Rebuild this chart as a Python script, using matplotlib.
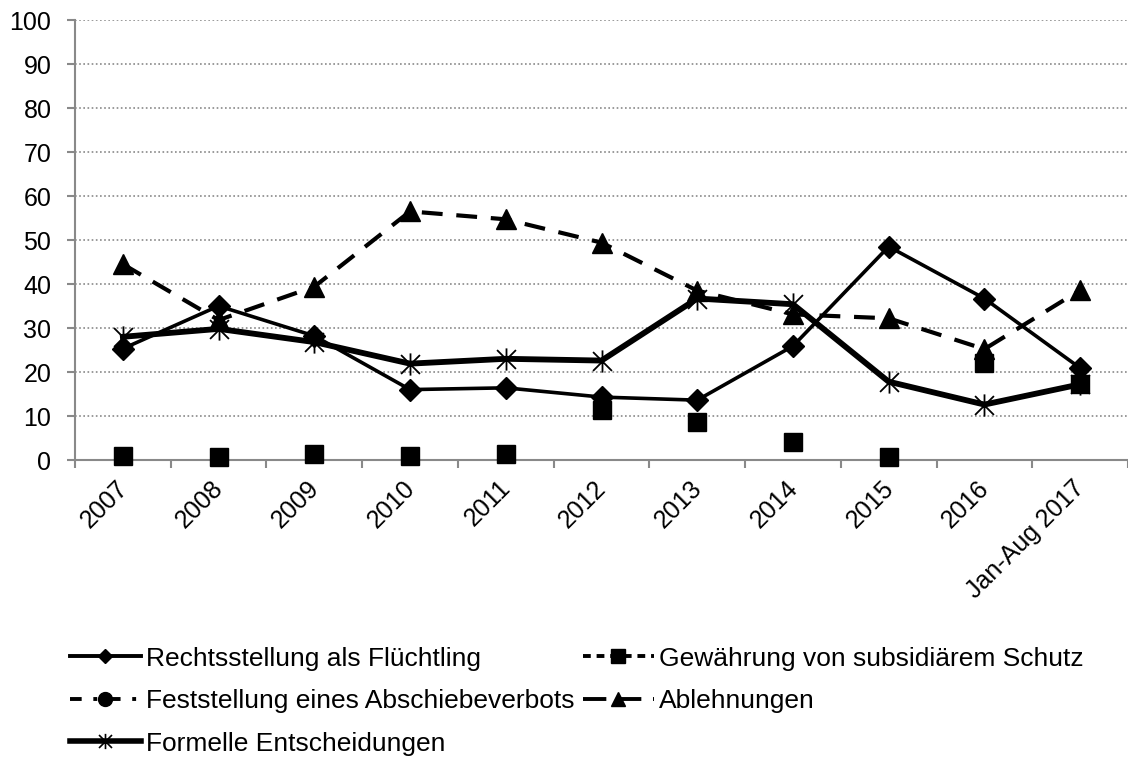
import matplotlib.pyplot as plt
import matplotlib.transforms as mtransforms
from matplotlib.lines import Line2D
from matplotlib.path import Path
import numpy as np

plt.rcParams['font.family'] = ['Liberation Sans', 'DejaVu Sans']

years = ['2007', '2008', '2009', '2010', '2011', '2012', '2013', '2014', '2015', '2016', 'Jan-Aug 2017']

# Anteile in Prozent
fluechtling = [25.3, 35.0, 28.2, 16.0, 16.4, 14.3, 13.6, 25.9, 48.5, 36.7, 20.9]
subsidiaer = [0.9, 0.6, 1.3, 1.0, 1.4, 11.3, 8.7, 4.1, 0.7, 22.0, 17.2]
abschiebeverbot = [np.nan] * 11
ablehnungen = [44.5, 31.8, 39.4, 56.5, 54.7, 49.4, 38.5, 33.1, 32.2, 25.2, 38.6]
formell = [28.0, 29.8, 26.8, 21.9, 23.0, 22.6, 36.7, 35.4, 17.8, 12.6, 17.2]

labels = ['Rechtsstellung als Flüchtling', 'Gewährung von subsidiärem Schutz',
          'Feststellung eines Abschiebeverbots', 'Ablehnungen', 'Formelle Entscheidungen']

fig = plt.figure(figsize=(11.28, 7.58), dpi=100)
ax = fig.add_axes([75 / 1128, 1 - 460 / 758, 1 - 75 / 1128, 440 / 758])

x = np.arange(len(years))

# Excel-Sternchen: senkrechter Strich plus X
M, L = Path.MOVETO, Path.LINETO
asterisk = Path([(0, -1), (0, 1), (-0.85, -0.85), (0.85, 0.85), (-0.85, 0.85), (0.85, -0.85)],
                [M, L, M, L, M, L])

ax.plot(x, fluechtling, color='black', lw=2.6, marker='D', ms=11, zorder=3)
ax.plot(x, subsidiaer, color='black', ls='none', marker='s', ms=13, zorder=3, clip_on=False)
ax.plot(x, abschiebeverbot, color='black', lw=2.6, ls=(0, (5, 2, 1, 2)), marker='o', ms=11, zorder=3)
ax.plot(x, ablehnungen, color='black', lw=3.0, ls=(0, (5, 3.3)), marker='^', ms=14, zorder=3)
ax.plot(x, formell, color='black', lw=4.2, marker=asterisk, ms=16, mew=1.3, zorder=3)

ax.set_ylim(0, 100)
ax.set_yticks(np.arange(0, 101, 10))
ax.set_xlim(-0.5, 10.45)
ax.set_xticks(x)
ax.set_xticklabels(years, rotation=45, ha='right', va='center', rotation_mode='anchor')
ax.set_xticks(np.arange(-0.5, 11, 1), minor=True)
ax.tick_params(axis='x', which='major', length=0, pad=17.5, labelsize=18)
ax.tick_params(axis='x', which='minor', length=6, width=1.5, color='#898989')
ax.tick_params(axis='y', length=6, width=1.5, color='#898989', labelsize=18, pad=11)
shift = mtransforms.ScaledTranslation(1 / 100, 0, fig.dpi_scale_trans)
for lab in ax.get_xticklabels():
    lab.set_transform(lab.get_transform() + shift)

ax.grid(axis='y', color='#898989', ls=(0, (1, 1.5)), lw=1.2, zorder=0)
for s in ['top', 'right']:
    ax.spines[s].set_visible(False)
for s in ['left', 'bottom']:
    ax.spines[s].set_color('#898989')
    ax.spines[s].set_linewidth(1.5)

h_fl = Line2D([], [], color='black', lw=2.8, marker='D', ms=7)
h_sub = Line2D([], [], color='black', lw=2.8, ls=(0, (2, 1.5)), marker='s', ms=10)
h_ab = Line2D([], [], color='black', lw=2.8, ls=(0, (3, 3, 1, 3)), marker='o', ms=10)
h_abl = Line2D([], [], color='black', lw=2.8, ls=(0, (6, 3)), marker='^', ms=10)
h_form = Line2D([], [], color='black', lw=4.0, marker=asterisk, ms=11, mew=1.2)

fig.legend([h_fl, h_ab, h_form, h_sub, h_abl],
           [labels[0], labels[2], labels[4], labels[1], labels[3]],
           ncol=2, loc='upper left', bbox_to_anchor=(59 / 1128, 1 - 636 / 758),
           frameon=False, fontsize=19, handlelength=2.7, handletextpad=0.2,
           columnspacing=0.3, labelspacing=0.7, borderaxespad=0)

fig.savefig('out.png', dpi=100)
